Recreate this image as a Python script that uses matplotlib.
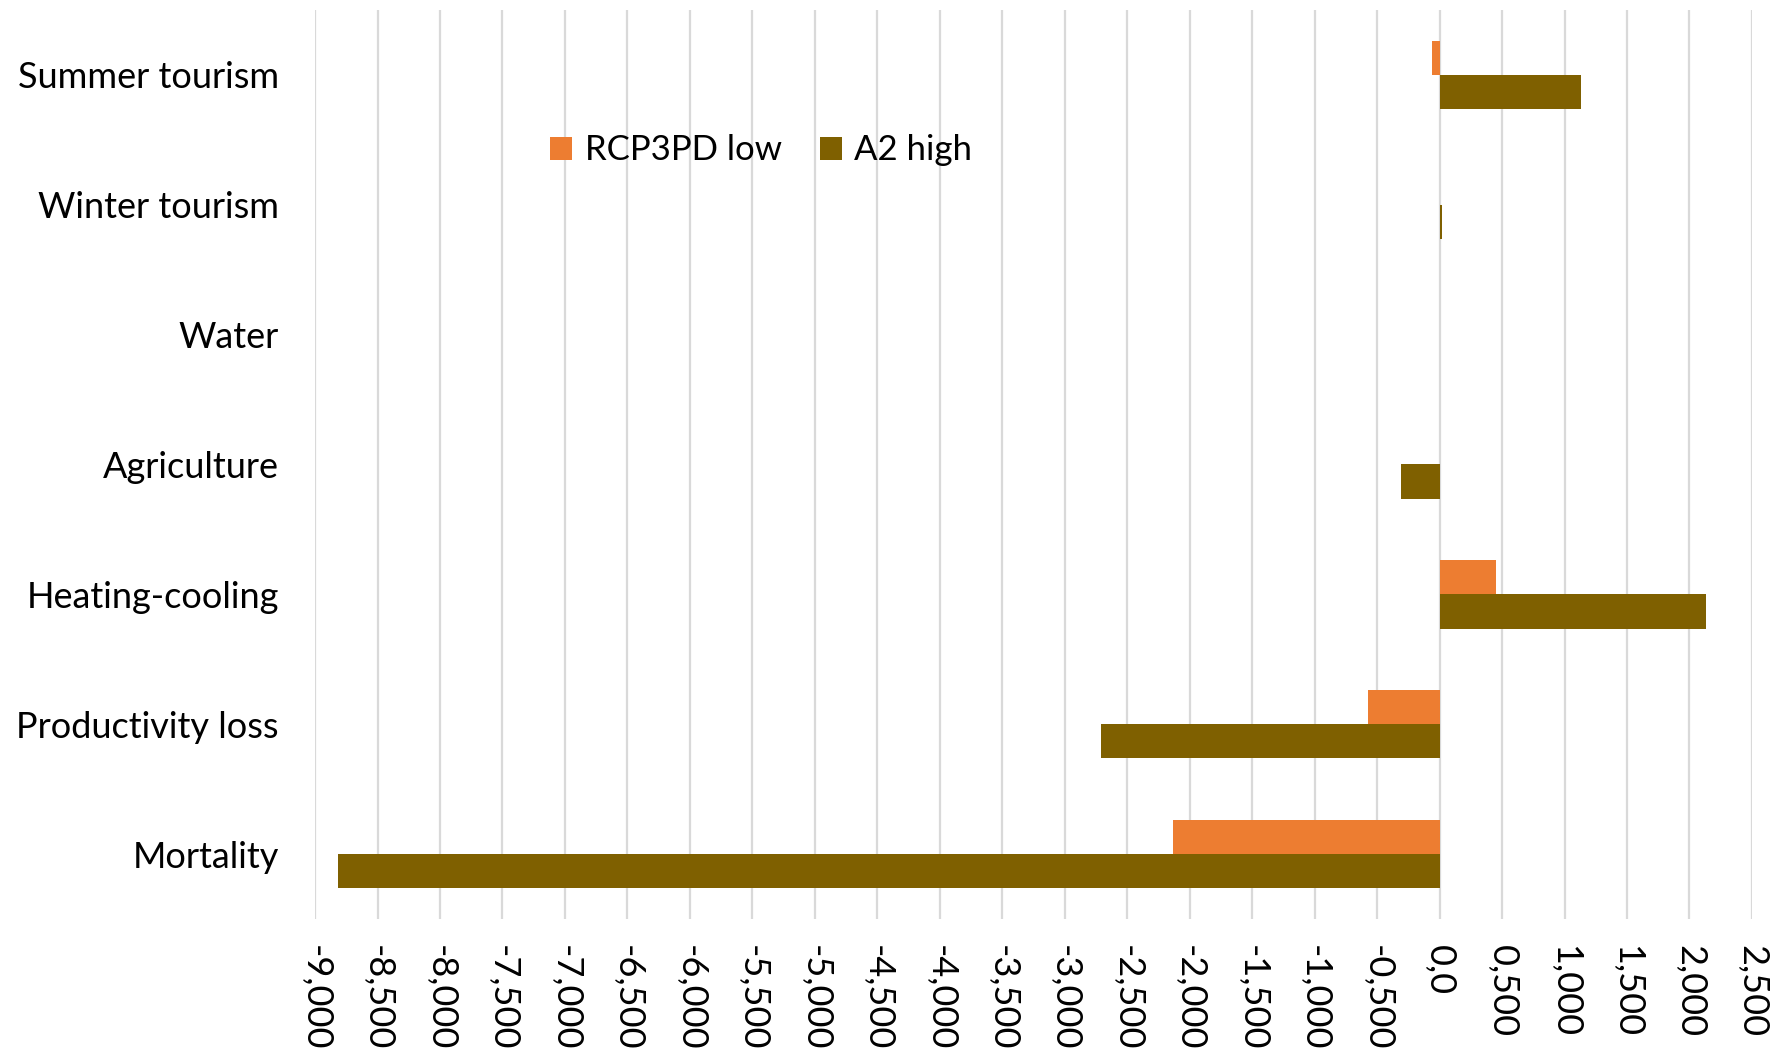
import numpy as np
import matplotlib
matplotlib.use("Agg")
import matplotlib.pyplot as plt

plt.rcParams['font.family'] = ['Lato', 'DejaVu Sans']

# Data (same units as the axis labels)
categories = ["Summer tourism", "Winter tourism", "Water", "Agriculture",
              "Heating-cooling", "Productivity loss", "Mortality"]
rcp3pd_low = [-0.06, 0.0, 0.0, 0.0, 0.45, -0.575, -2.13]
a2_high = [1.13, 0.02, 0.0, -0.306, 2.13, -2.71, -8.82]

xticks = np.arange(-9.0, 2.51, 0.5)
xtick_labels = ["0,0" if abs(v) < 1e-9 else f"{v:.3f}".replace(".", ",") for v in xticks]

orange = "#ED7D31"
olive = "#7F6000"

fig = plt.figure(figsize=(17.7, 10.59), dpi=100)
ax = fig.add_axes([0.178, 0.1322, 0.8118, 0.8584])

y = np.arange(len(categories))
h = 0.264
ax.barh(y - h / 2, rcp3pd_low, height=h, color=orange, label="RCP3PD low", linewidth=0)
ax.barh(y + h / 2, a2_high, height=h, color=olive, label="A2 high", linewidth=0)

ax.set_xlim(-9.0, 2.5)
ax.set_ylim(len(categories) - 0.5, -0.5)
ax.set_xticks(xticks)
ax.set_xticklabels(xtick_labels, rotation=-90, ha="center", va="top")
ax.set_yticks(y)
ax.set_yticklabels(categories)
ax.tick_params(axis="both", length=0, labelsize=26, colors="#000000")
ax.tick_params(axis="x", pad=19)
ax.tick_params(axis="y", pad=26)

ax.xaxis.grid(True, color="#D9D9D9", linewidth=1.6)
ax.set_axisbelow(True)
for s in ax.spines.values():
    s.set_visible(False)

ax.legend(loc="center", bbox_to_anchor=(0.43, 0.858), bbox_transform=fig.transFigure,
          ncol=2, frameon=False, fontsize=25, handlelength=0.65, handleheight=0.65,
          handletextpad=0.35, columnspacing=1.1)

fig.savefig("out.png", dpi=100)
